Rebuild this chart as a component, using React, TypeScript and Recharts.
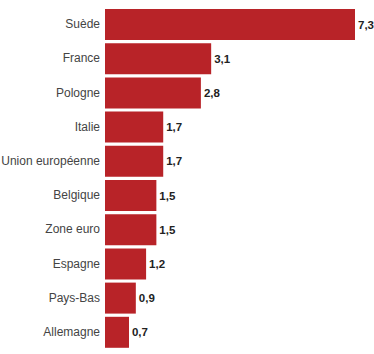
import { BarChart, Bar, XAxis, YAxis, LabelList } from 'recharts'

const countries = [
  'Suède',
  'France',
  'Pologne',
  'Italie',
  'Union européenne',
  'Belgique',
  'Zone euro',
  'Espagne',
  'Pays-Bas',
  'Allemagne',
]
const values = [7.3, 3.1, 2.8, 1.7, 1.7, 1.5, 1.5, 1.2, 0.9, 0.7]

const data = countries.map((name, i) => ({ name, value: values[i] }))

const fmt = (v: any) => String(v).replace('.', ',')

// single-line tick so "Union européenne" doesn't wrap
function CountryTick(props: any) {
  const { x, y, payload } = props
  return (
    <text
      x={x}
      y={y}
      dy={4}
      textAnchor="end"
      fontSize={12}
      fill="#444"
      fontFamily="Liberation Sans"
    >
      {payload.value}
    </text>
  )
}

export default function App() {
  return (
    <div style={{ position: 'absolute', left: 0, top: 0, background: '#fff' }}>
      <BarChart
        width={374}
        height={354}
        data={data}
        layout="vertical"
        margin={{ top: 7, right: 19, bottom: 5, left: 0 }}
      >
        <XAxis type="number" domain={[0, 7.3]} hide />
        <YAxis
          type="category"
          dataKey="name"
          width={105}
          axisLine={false}
          tickLine={false}
          tickSize={0}
          tickMargin={5}
          interval={0}
          tick={<CountryTick />}
        />
        <Bar dataKey="value" fill="#b82328" barSize={31} isAnimationActive={false}>
          <LabelList
            dataKey="value"
            position="right"
            offset={3}
            formatter={fmt}
            style={{ fontSize: 11.5, fontWeight: 700, fill: '#222', fontFamily: 'Liberation Sans' }}
          />
        </Bar>
      </BarChart>
    </div>
  )
}
